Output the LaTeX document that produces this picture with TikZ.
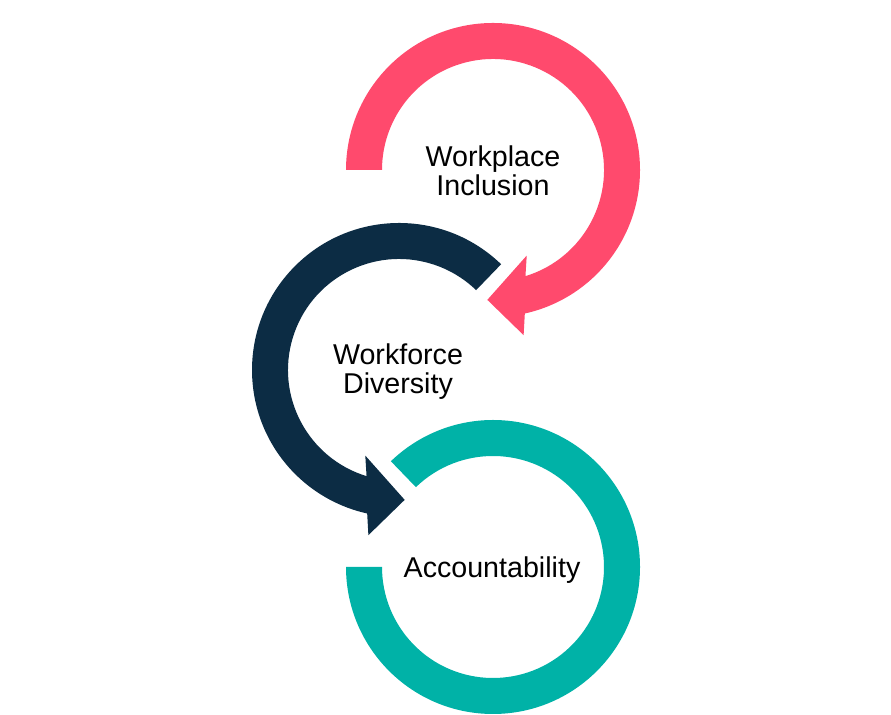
\documentclass[tikz,border=0pt]{standalone}
\usepackage{fontspec}
\setmainfont{Liberation Sans}
\usepackage{tikz}
\usetikzlibrary{calc}
\definecolor{ringred}{HTML}{FF4A6D}
\definecolor{ringnavy}{HTML}{0C2C44}
\definecolor{ringteal}{HTML}{00B2A7}

\begin{document}
\begin{tikzpicture}[x=0.02cm,y=0.02cm,
		label text/.style={font=\fontsize{16.3}{16.5}\selectfont, align=center, inner sep=0pt}]
		\useasboundingbox (0,0) rectangle (891,715);
		\coordinate (inclusion) at (493,545);
		\coordinate (diversity) at (399,345);
		\coordinate (account) at (493,148);
		% top ring, clockwise
		\begin{scope}[shift={(inclusion)}]
			\fill[ringred] (180:147) arc [start angle=180, end angle=-77.5, radius=147]
				-- (-79.5:168) -- (-92.5:130) -- (-68.5:92) -- (-73:111)
				arc [start angle=-73, end angle=180, radius=111] -- cycle;
		\end{scope}
		% middle ring, counter clockwise
		\begin{scope}[shift={(diversity)}]
			\fill[ringnavy] (46:147) arc [start angle=46, end angle=257.5, radius=147]
				-- (259.5:168) -- (272.5:130) -- (248.5:92) -- (253:111)
				arc [start angle=253, end angle=46, radius=111] -- cycle;
		\end{scope}
		% bottom ring
		\begin{scope}[shift={(account)}]
			\fill[ringteal] (180:147) arc [start angle=180, end angle=494, radius=147]
				-- (494:111) arc [start angle=494, end angle=180, radius=111] -- cycle;
		\end{scope}
		\node[label text] (inclusiontext) at (493,544) {Workplace\\Inclusion};
		\node[label text] (diversitytext) at (398,343) {Workforce\\Diversity};
		\node[label text, anchor=base] (accounttext) at (492,137) {Accountability};
	\end{tikzpicture}
\end{document}
